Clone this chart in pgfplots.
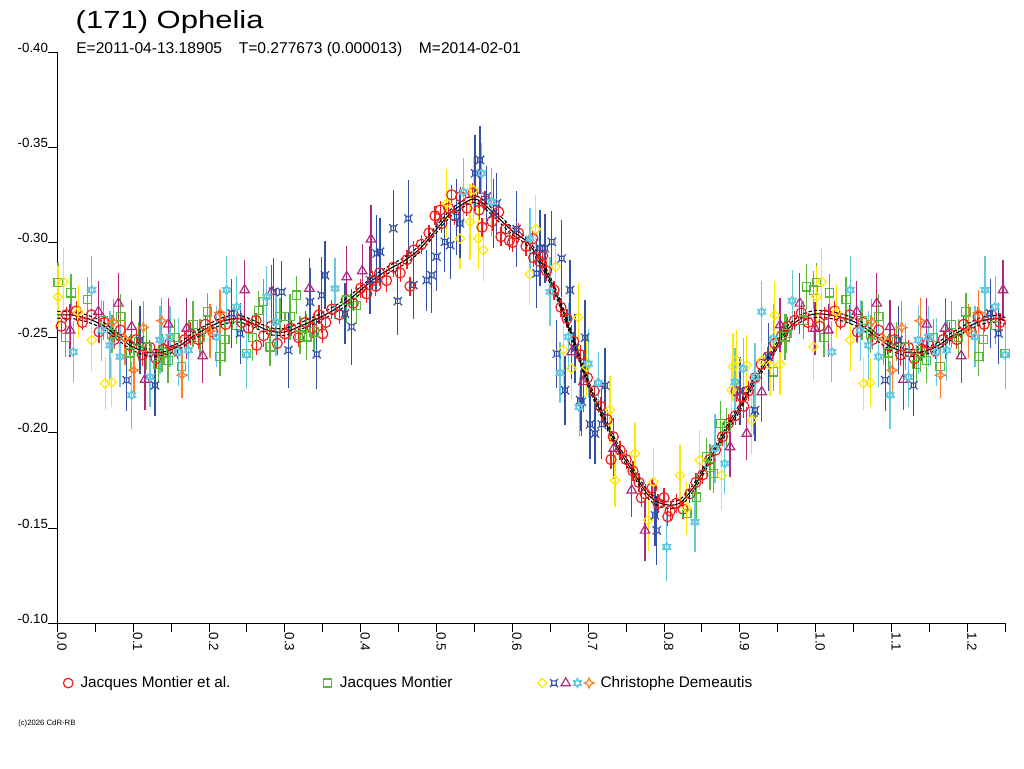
\documentclass[border=0pt]{standalone}
\usepackage{fontspec}
\setmainfont{Liberation Sans}
\usepackage{graphicx}
\usepackage{pgfplots}
\usepackage{pgfplotstable}
\pgfplotsset{compat=1.18}
\usetikzlibrary{plotmarks}

\definecolor{myred}{RGB}{240,30,30}
\definecolor{mygreen}{RGB}{90,185,60}
\definecolor{myyellow}{RGB}{255,232,0}
\definecolor{myblue}{RGB}{50,80,165}
\definecolor{mypurple}{RGB}{175,40,125}
\definecolor{mycyan}{RGB}{100,200,225}
\definecolor{myorange}{RGB}{255,125,40}

\pgfdeclareplotmark{rdiamond}{%
  \pgfpathmoveto{\pgfpoint{0pt}{\pgfplotmarksize}}%
  \pgfpathlineto{\pgfpoint{\pgfplotmarksize}{0pt}}%
  \pgfpathlineto{\pgfpoint{0pt}{-\pgfplotmarksize}}%
  \pgfpathlineto{\pgfpoint{-\pgfplotmarksize}{0pt}}%
  \pgfpathclose\pgfusepathqstroke}
\pgfdeclareplotmark{bowtie}{%
  \pgfpathrectangle{\pgfpoint{-0.55\pgfplotmarksize}{-0.55\pgfplotmarksize}}{\pgfpoint{1.1\pgfplotmarksize}{1.1\pgfplotmarksize}}%
  \pgfpathmoveto{\pgfpoint{-\pgfplotmarksize}{-\pgfplotmarksize}}\pgfpathlineto{\pgfpoint{-0.55\pgfplotmarksize}{-0.55\pgfplotmarksize}}%
  \pgfpathmoveto{\pgfpoint{\pgfplotmarksize}{-\pgfplotmarksize}}\pgfpathlineto{\pgfpoint{0.55\pgfplotmarksize}{-0.55\pgfplotmarksize}}%
  \pgfpathmoveto{\pgfpoint{-\pgfplotmarksize}{\pgfplotmarksize}}\pgfpathlineto{\pgfpoint{-0.55\pgfplotmarksize}{0.55\pgfplotmarksize}}%
  \pgfpathmoveto{\pgfpoint{\pgfplotmarksize}{\pgfplotmarksize}}\pgfpathlineto{\pgfpoint{0.55\pgfplotmarksize}{0.55\pgfplotmarksize}}%
  \pgfusepathqstroke}
\pgfdeclareplotmark{david}{%
  \pgfpathmoveto{\pgfpoint{0pt}{\pgfplotmarksize}}%
  \pgfpathlineto{\pgfpoint{0.866\pgfplotmarksize}{-0.5\pgfplotmarksize}}%
  \pgfpathlineto{\pgfpoint{-0.866\pgfplotmarksize}{-0.5\pgfplotmarksize}}%
  \pgfpathclose
  \pgfpathmoveto{\pgfpoint{0pt}{-\pgfplotmarksize}}%
  \pgfpathlineto{\pgfpoint{0.866\pgfplotmarksize}{0.5\pgfplotmarksize}}%
  \pgfpathlineto{\pgfpoint{-0.866\pgfplotmarksize}{0.5\pgfplotmarksize}}%
  \pgfpathclose\pgfusepathqstroke}
\pgfdeclareplotmark{fourstar}{%
  \pgfpathmoveto{\pgfpoint{0pt}{\pgfplotmarksize}}%
  \pgfpathlineto{\pgfpoint{0.3\pgfplotmarksize}{0.3\pgfplotmarksize}}%
  \pgfpathlineto{\pgfpoint{\pgfplotmarksize}{0pt}}%
  \pgfpathlineto{\pgfpoint{0.3\pgfplotmarksize}{-0.3\pgfplotmarksize}}%
  \pgfpathlineto{\pgfpoint{0pt}{-\pgfplotmarksize}}%
  \pgfpathlineto{\pgfpoint{-0.3\pgfplotmarksize}{-0.3\pgfplotmarksize}}%
  \pgfpathlineto{\pgfpoint{-\pgfplotmarksize}{0pt}}%
  \pgfpathlineto{\pgfpoint{-0.3\pgfplotmarksize}{0.3\pgfplotmarksize}}%
  \pgfpathclose\pgfusepathqstroke}

% fitted curve and its band
\pgfplotstableread{
x y lo hi
0.00 -0.2620 -0.2638 -0.2602
0.02 -0.2618 -0.2636 -0.2600
0.04 -0.2600 -0.2618 -0.2582
0.06 -0.2565 -0.2583 -0.2547
0.08 -0.2505 -0.2523 -0.2487
0.10 -0.2450 -0.2468 -0.2432
0.12 -0.2422 -0.2440 -0.2404
0.14 -0.2425 -0.2443 -0.2407
0.16 -0.2455 -0.2473 -0.2437
0.18 -0.2510 -0.2528 -0.2492
0.20 -0.2555 -0.2573 -0.2537
0.22 -0.2590 -0.2608 -0.2572
0.24 -0.2600 -0.2618 -0.2582
0.26 -0.2570 -0.2588 -0.2552
0.28 -0.2535 -0.2553 -0.2517
0.30 -0.2530 -0.2548 -0.2512
0.32 -0.2560 -0.2578 -0.2542
0.34 -0.2595 -0.2613 -0.2577
0.36 -0.2635 -0.2653 -0.2617
0.38 -0.2685 -0.2703 -0.2667
0.40 -0.2750 -0.2768 -0.2732
0.42 -0.2815 -0.2833 -0.2797
0.44 -0.2865 -0.2883 -0.2847
0.46 -0.2910 -0.2928 -0.2892
0.48 -0.2975 -0.2993 -0.2957
0.50 -0.3070 -0.3088 -0.3052
0.52 -0.3160 -0.3178 -0.3142
0.54 -0.3215 -0.3233 -0.3197
0.55 -0.3228 -0.3246 -0.3210
0.56 -0.3210 -0.3228 -0.3192
0.58 -0.3135 -0.3153 -0.3117
0.60 -0.3060 -0.3078 -0.3042
0.62 -0.3000 -0.3018 -0.2982
0.64 -0.2880 -0.2898 -0.2862
0.66 -0.2710 -0.2728 -0.2692
0.68 -0.2490 -0.2508 -0.2472
0.70 -0.2260 -0.2278 -0.2242
0.72 -0.2080 -0.2098 -0.2062
0.74 -0.1915 -0.1933 -0.1897
0.76 -0.1790 -0.1808 -0.1772
0.78 -0.1670 -0.1688 -0.1652
0.80 -0.1625 -0.1643 -0.1607
0.82 -0.1630 -0.1648 -0.1612
0.84 -0.1720 -0.1738 -0.1702
0.86 -0.1860 -0.1878 -0.1842
0.88 -0.2000 -0.2018 -0.1982
0.90 -0.2135 -0.2153 -0.2117
0.92 -0.2280 -0.2298 -0.2262
0.94 -0.2400 -0.2418 -0.2382
0.96 -0.2530 -0.2548 -0.2512
0.98 -0.2600 -0.2618 -0.2582
1.00 -0.2625 -0.2643 -0.2607
1.02 -0.2618 -0.2636 -0.2600
1.04 -0.2600 -0.2618 -0.2582
1.06 -0.2565 -0.2583 -0.2547
1.08 -0.2505 -0.2523 -0.2487
1.10 -0.2450 -0.2468 -0.2432
1.12 -0.2422 -0.2440 -0.2404
1.14 -0.2425 -0.2443 -0.2407
1.16 -0.2455 -0.2473 -0.2437
1.18 -0.2510 -0.2528 -0.2492
1.20 -0.2555 -0.2573 -0.2537
1.22 -0.2590 -0.2608 -0.2572
1.24 -0.2600 -0.2618 -0.2582
1.25 -0.2588 -0.2606 -0.2570
}\tabfit

% Jacques Montier et al.
\pgfplotstableread{
x y e
0.005 -0.256 0.004
0.012 -0.262 0.004
0.025 -0.264 0.005
0.033 -0.258 0.004
0.045 -0.262 0.005
0.055 -0.253 0.006
0.062 -0.258 0.004
0.075 -0.249 0.005
0.083 -0.254 0.006
0.095 -0.246 0.005
0.104 -0.249 0.005
0.112 -0.241 0.006
0.122 -0.245 0.004
0.130 -0.239 0.005
0.140 -0.244 0.006
0.148 -0.247 0.005
0.158 -0.243 0.004
0.168 -0.249 0.005
0.176 -0.252 0.006
0.186 -0.249 0.005
0.195 -0.257 0.005
0.205 -0.253 0.004
0.214 -0.261 0.005
0.222 -0.257 0.004
0.232 -0.262 0.005
0.243 -0.258 0.005
0.252 -0.255 0.005
0.262 -0.259 0.004
0.263 -0.246 0.005
0.272 -0.251 0.006
0.282 -0.256 0.005
0.290 -0.247 0.006
0.300 -0.252 0.005
0.308 -0.255 0.004
0.318 -0.250 0.005
0.327 -0.258 0.006
0.336 -0.255 0.005
0.345 -0.262 0.005
0.350 -0.252 0.005
0.354 -0.258 0.004
0.362 -0.265 0.005
0.372 -0.262 0.005
0.381 -0.270 0.005
0.390 -0.268 0.004
0.400 -0.276 0.005
0.408 -0.273 0.005
0.416 -0.280 0.005
0.420 -0.277 0.005
0.425 -0.284 0.005
0.434 -0.280 0.006
0.443 -0.287 0.005
0.452 -0.284 0.005
0.461 -0.291 0.005
0.465 -0.277 0.005
0.470 -0.296 0.005
0.480 -0.299 0.005
0.490 -0.305 0.004
0.498 -0.314 0.005
0.505 -0.317 0.005
0.507 -0.310 0.005
0.516 -0.318 0.005
0.520 -0.325 0.005
0.524 -0.314 0.005
0.532 -0.324 0.005
0.540 -0.318 0.004
0.548 -0.326 0.005
0.556 -0.317 0.005
0.560 -0.308 0.005
0.564 -0.322 0.005
0.573 -0.311 0.005
0.582 -0.316 0.004
0.585 -0.303 0.005
0.591 -0.307 0.005
0.596 -0.301 0.005
0.600 -0.300 0.005
0.608 -0.305 0.005
0.618 -0.298 0.005
0.627 -0.302 0.004
0.628 -0.292 0.005
0.636 -0.290 0.005
0.640 -0.293 0.005
0.645 -0.285 0.005
0.655 -0.275 0.005
0.664 -0.266 0.005
0.672 -0.260 0.005
0.681 -0.248 0.005
0.690 -0.241 0.005
0.699 -0.229 0.005
0.708 -0.222 0.005
0.716 -0.214 0.005
0.725 -0.207 0.005
0.730 -0.186 0.005
0.733 -0.198 0.005
0.742 -0.191 0.005
0.750 -0.186 0.005
0.759 -0.180 0.005
0.767 -0.174 0.005
0.770 -0.166 0.005
0.775 -0.168 0.005
0.784 -0.171 0.005
0.792 -0.163 0.005
0.800 -0.166 0.005
0.805 -0.156 0.005
0.808 -0.159 0.005
0.816 -0.163 0.005
0.825 -0.160 0.005
0.834 -0.168 0.005
0.842 -0.174 0.005
0.851 -0.178 0.005
0.860 -0.186 0.005
0.868 -0.191 0.005
0.877 -0.198 0.005
0.885 -0.205 0.005
0.894 -0.209 0.005
0.895 -0.222 0.006
0.903 -0.219 0.005
0.905 -0.214 0.006
0.911 -0.222 0.005
0.920 -0.229 0.005
0.928 -0.236 0.005
0.937 -0.240 0.005
0.946 -0.247 0.005
0.955 -0.251 0.005
0.963 -0.256 0.005
0.972 -0.259 0.005
0.981 -0.263 0.005
0.990 -0.258 0.005
1.005 -0.256 0.004
1.012 -0.262 0.004
1.025 -0.264 0.005
1.033 -0.258 0.004
1.045 -0.262 0.005
1.055 -0.253 0.006
1.062 -0.258 0.004
1.075 -0.249 0.005
1.083 -0.254 0.006
1.095 -0.246 0.005
1.104 -0.249 0.005
1.112 -0.241 0.006
1.122 -0.245 0.004
1.130 -0.239 0.005
1.140 -0.244 0.006
1.148 -0.247 0.005
1.158 -0.243 0.004
1.168 -0.249 0.005
1.176 -0.252 0.006
1.186 -0.249 0.005
1.195 -0.257 0.005
1.205 -0.253 0.004
1.214 -0.261 0.005
1.222 -0.257 0.004
1.232 -0.262 0.005
1.243 -0.258 0.005
}\tabred

% Jacques Montier
\pgfplotstableread{
x y e
0.001 -0.2790 0.010
0.011 -0.2500 0.010
0.018 -0.2735 0.010
0.040 -0.2700 0.012
0.061 -0.2590 0.010
0.072 -0.2520 0.010
0.083 -0.2610 0.012
0.096 -0.2420 0.010
0.107 -0.2480 0.010
0.118 -0.2450 0.012
0.133 -0.2360 0.010
0.138 -0.2420 0.010
0.146 -0.2380 0.012
0.155 -0.2500 0.010
0.164 -0.2350 0.010
0.179 -0.2570 0.012
0.188 -0.2500 0.010
0.198 -0.2635 0.010
0.2145 -0.2400 0.010
0.221 -0.2490 0.012
0.2365 -0.2565 0.010
0.2497 -0.2417 0.010
0.2576 -0.2500 0.012
0.265 -0.2644 0.010
0.2716 -0.2690 0.012
0.2805 -0.2452 0.010
0.2936 -0.2610 0.010
0.3068 -0.2610 0.012
0.3157 -0.2723 0.010
0.320 -0.2513 0.010
0.3289 -0.2504 0.012
0.3385 -0.2530 0.010
0.3816 -0.2697 0.012
0.3948 -0.2670 0.010
0.830 -0.1576 0.010
0.843 -0.1663 0.012
0.856 -0.1874 0.010
0.8606 -0.1821 0.012
0.865 -0.1786 0.010
0.874 -0.2050 0.012
0.8826 -0.2031 0.010
0.918 -0.2110 0.012
0.944 -0.2320 0.010
0.9595 -0.2504 0.012
0.9618 -0.2522 0.010
0.9836 -0.2592 0.010
0.988 -0.2767 0.012
0.9969 -0.2750 0.010
1.001 -0.2790 0.010
1.011 -0.2500 0.010
1.018 -0.2735 0.010
1.040 -0.2700 0.012
1.061 -0.2590 0.010
1.072 -0.2520 0.010
1.083 -0.2610 0.012
1.096 -0.2420 0.010
1.107 -0.2480 0.010
1.118 -0.2450 0.012
1.133 -0.2360 0.010
1.138 -0.2420 0.010
1.146 -0.2380 0.012
1.155 -0.2500 0.010
1.164 -0.2350 0.010
1.179 -0.2570 0.012
1.188 -0.2500 0.010
1.198 -0.2635 0.010
1.2145 -0.2400 0.010
1.221 -0.2490 0.012
1.2365 -0.2565 0.010
1.2497 -0.2417 0.010
}\tabgreen

% Christophe Demeautis (five sets)
\pgfplotstableread{
x y e
0.001 -0.2714 0.016
0.008 -0.2793 0.018
0.0277 -0.2636 0.014
0.0454 -0.2487 0.016
0.063 -0.2260 0.014
0.0717 -0.2265 0.013
0.5134 -0.3205 0.018
0.531 -0.3020 0.016
0.544 -0.3108 0.020
0.5487 -0.3275 0.018
0.555 -0.3020 0.016
0.5617 -0.2960 0.016
0.623 -0.2833 0.016
0.631 -0.3070 0.018
0.657 -0.2872 0.016
0.667 -0.2438 0.018
0.678 -0.2338 0.016
0.687 -0.2606 0.018
0.698 -0.2346 0.016
0.7288 -0.2121 0.018
0.7354 -0.1751 0.014
0.7617 -0.1892 0.016
0.779 -0.1541 0.016
0.7859 -0.1742 0.018
0.821 -0.1777 0.016
0.830 -0.1603 0.014
0.847 -0.1856 0.016
0.876 -0.1777 0.018
0.889 -0.2224 0.016
0.891 -0.2347 0.018
0.896 -0.2382 0.016
0.909 -0.2355 0.016
0.9156 -0.2067 0.018
0.929 -0.2382 0.016
0.9398 -0.2355 0.016
0.946 -0.2618 0.018
0.953 -0.2360 0.016
0.997 -0.2452 0.018
1.001 -0.2714 0.016
1.008 -0.2793 0.018
1.0277 -0.2636 0.014
1.0454 -0.2487 0.016
1.063 -0.2260 0.014
1.0717 -0.2265 0.013
}\tabyellow

\pgfplotstableread{
x y e
0.0915 -0.2277 0.016
0.109 -0.2487 0.018
0.1288 -0.2250 0.016
0.230 -0.2627 0.018
0.241 -0.2522 0.016
0.285 -0.2740 0.018
0.296 -0.2740 0.016
0.3046 -0.2434 0.020
0.3332 -0.2688 0.018
0.342 -0.2413 0.018
0.3487 -0.2723 0.020
0.353 -0.2828 0.018
0.3794 -0.2627 0.016
0.388 -0.2557 0.020
0.4123 -0.2802 0.018
0.421 -0.2942 0.020
0.4255 -0.2951 0.018
0.443 -0.3074 0.020
0.449 -0.2692 0.018
0.4628 -0.3126 0.020
0.4694 -0.2776 0.018
0.487 -0.2802 0.016
0.4937 -0.2828 0.020
0.500 -0.2925 0.018
0.511 -0.3003 0.016
0.518 -0.2986 0.018
0.5266 -0.3135 0.020
0.531 -0.3100 0.018
0.5508 -0.3363 0.020
0.5573 -0.3433 0.018
0.5662 -0.3240 0.016
0.575 -0.3153 0.018
0.5794 -0.3205 0.016
0.6057 -0.3070 0.020
0.632 -0.2837 0.018
0.6365 -0.2969 0.020
0.643 -0.2969 0.018
0.652 -0.3003 0.016
0.6585 -0.2415 0.018
0.665 -0.2916 0.020
0.6694 -0.2224 0.018
0.676 -0.2750 0.016
0.6826 -0.2443 0.018
0.6893 -0.2172 0.016
0.6915 -0.2163 0.018
0.6958 -0.2500 0.020
0.7024 -0.2045 0.018
0.709 -0.1997 0.016
0.7178 -0.2045 0.018
0.7222 -0.2248 0.020
0.788 -0.1567 0.016
0.7903 -0.1488 0.018
0.9002 -0.2220 0.018
0.920 -0.2119 0.016
0.9375 -0.2399 0.018
1.0915 -0.2277 0.016
1.109 -0.2487 0.018
1.1288 -0.2250 0.016
1.230 -0.2627 0.018
1.241 -0.2522 0.016
}\tabblue

\pgfplotstableread{
x y e
0.0167 -0.2539 0.014
0.0541 -0.2636 0.016
0.0805 -0.2680 0.016
0.098 -0.2557 0.014
0.1156 -0.2280 0.016
0.1464 -0.2570 0.014
0.1706 -0.2548 0.016
0.1917 -0.2404 0.014
0.247 -0.2750 0.016
0.2827 -0.2741 0.014
0.3323 -0.2758 0.016
0.3816 -0.2819 0.016
0.4020 -0.2850 0.014
0.4136 -0.3017 0.018
0.6783 -0.2425 0.014
0.6936 -0.2268 0.016
0.7133 -0.2259 0.014
0.7335 -0.1918 0.016
0.7574 -0.1699 0.014
0.7749 -0.1488 0.016
0.887 -0.1926 0.016
0.909 -0.1997 0.014
0.9288 -0.2215 0.016
0.953 -0.2566 0.014
0.979 -0.2680 0.016
0.999 -0.2548 0.014
1.0167 -0.2539 0.014
1.0541 -0.2636 0.016
1.0805 -0.2680 0.016
1.098 -0.2557 0.014
1.1156 -0.2280 0.016
1.1464 -0.2570 0.014
1.1706 -0.2548 0.016
1.1917 -0.2404 0.014
1.247 -0.2750 0.016
}\tabpurple

\pgfplotstableread{
x y e
0.0211 -0.2425 0.016
0.0454 -0.2750 0.018
0.0585 -0.2539 0.016
0.0695 -0.2460 0.018
0.0827 -0.2400 0.016
0.098 -0.2198 0.018
0.1222 -0.2294 0.016
0.1353 -0.2487 0.018
0.1486 -0.2504 0.016
0.1596 -0.2425 0.018
0.1727 -0.2434 0.016
0.2101 -0.2504 0.016
0.2233 -0.2750 0.018
0.2365 -0.2662 0.016
0.2497 -0.2410 0.018
0.2761 -0.2714 0.016
0.2884 -0.2583 0.018
0.3662 -0.2758 0.016
0.5353 -0.3266 0.018
0.5596 -0.3363 0.016
0.5728 -0.3213 0.018
0.6233 -0.3021 0.016
0.6496 -0.2741 0.018
0.6629 -0.2316 0.016
0.6738 -0.2504 0.018
0.6880 -0.2136 0.016
0.7001 -0.2364 0.018
0.7133 -0.2263 0.016
0.8035 -0.1401 0.018
0.8408 -0.1532 0.016
0.8672 -0.1918 0.018
0.880 -0.1839 0.016
0.8936 -0.2268 0.018
0.9045 -0.2338 0.016
0.920 -0.2294 0.018
0.9288 -0.2636 0.016
0.944 -0.2496 0.018
0.9690 -0.2694 0.016
1.0211 -0.2425 0.016
1.0454 -0.2750 0.018
1.0585 -0.2539 0.016
1.0695 -0.2460 0.018
1.0827 -0.2400 0.016
1.098 -0.2198 0.018
1.1222 -0.2294 0.016
1.1353 -0.2487 0.018
1.1486 -0.2504 0.016
1.1596 -0.2425 0.018
1.1727 -0.2434 0.016
1.2101 -0.2504 0.016
1.2233 -0.2750 0.018
1.2365 -0.2662 0.016
1.2497 -0.2410 0.018
}\tabcyan

\pgfplotstableread{
x y e
0.0738 -0.2583 0.012
0.0893 -0.2496 0.014
0.1010 -0.2329 0.012
0.1134 -0.2553 0.014
0.1377 -0.2589 0.012
0.1645 -0.2303 0.012
0.2012 -0.2535 0.014
0.2145 -0.2632 0.012
1.0738 -0.2583 0.012
1.0893 -0.2496 0.014
1.1010 -0.2329 0.012
1.1134 -0.2553 0.014
1.1377 -0.2589 0.012
1.1645 -0.2303 0.012
1.2012 -0.2535 0.014
1.2145 -0.2632 0.012
}\taborange

\pgfplotsset{
  obs/.style n args={3}{forget plot, only marks, color=#1, mark=#2, mark size=#3,
    line width=0.9pt, mark options={solid, line width=0.9pt},
    error bars/.cd, y dir=both, y explicit, error mark=none,
    error bar style={line width=0.9pt, color=#1}},
}

\begin{document}
\begin{tikzpicture}
\useasboundingbox (0,0) rectangle (768pt,576pt);

\node[anchor=base west, inner sep=0pt, font=\fontsize{18.6}{21}\selectfont] at (56.6pt,554.8pt) {\scalebox{1.25}[1]{(171) Ophelia}};
\node[anchor=base west, inner sep=0pt, font=\fontsize{11.7}{13.5}\selectfont] at (57pt,536pt)
  {E=2011-04-13.18905\hspace{12.5pt}T=0.277673 (0.000013)\hspace{12.5pt}M=2014-02-01};
\node[anchor=west, inner sep=0pt, font=\fontsize{5.8}{7}\selectfont] at (13.5pt,33.75pt) {(c)2026 CdR-RB};

\begin{axis}[
  at={(43pt,108.5pt)}, anchor=south west,
  scale only axis, width=711pt, height=428.5pt,
  xmin=0, xmax=1.25, ymin=-0.40, ymax=-0.10, y dir=reverse,
  axis x line*=bottom, axis y line*=left,
  axis line style={line width=0.75pt, black, -},
  clip=false,
  xtick={0,0.1,0.2,0.3,0.4,0.5,0.6,0.7,0.8,0.9,1.0,1.1,1.2},
  xticklabels={0.0,0.1,0.2,0.3,0.4,0.5,0.6,0.7,0.8,0.9,1.0,1.1,1.2},
  minor xtick={0.05,0.15,0.25,0.35,0.45,0.55,0.65,0.75,0.85,0.95,1.05,1.15,1.25},
  ytick={-0.40,-0.35,-0.30,-0.25,-0.20,-0.15,-0.10},
  yticklabels={-0.40,-0.35,-0.30,-0.25,-0.20,-0.15,-0.10},
  tick align=outside, major tick length=6.75pt, minor tick length=6.75pt,
  every tick/.style={black, line width=0.75pt},
  ticklabel style={font=\fontsize{10}{12}\selectfont},
  xticklabel style={rotate=-90, anchor=base west, inner sep=0pt},
  yticklabel style={anchor=base east, inner sep=0pt},
  legend columns=3,
  legend cell align=left,
  legend style={at={(axis description cs:0.0042,-0.1045)}, anchor=west,
    draw=none, fill=none, inner sep=0pt, outer sep=0pt,
    column sep=0pt, row sep=0pt,
    font=\fontsize{11.5}{13}\selectfont,
    nodes={inner sep=0pt, outer sep=0pt}},
]

\addplot[obs={myred}{o}{3.8pt}] table[x=x, y=y, y error=e] {\tabred};
\addplot[obs={mygreen}{square}{3.1pt}] table[x=x, y=y, y error=e] {\tabgreen};
\addplot[obs={myyellow}{rdiamond}{3.5pt}] table[x=x, y=y, y error=e] {\tabyellow};
\addplot[obs={myblue}{bowtie}{3.1pt}] table[x=x, y=y, y error=e] {\tabblue};
\addplot[obs={mypurple}{triangle}{4.1pt}] table[x=x, y=y, y error=e] {\tabpurple};
\addplot[obs={mycyan}{david}{3.5pt}] table[x=x, y=y, y error=e] {\tabcyan};
\addplot[obs={myorange}{fourstar}{3.8pt}] table[x=x, y=y, y error=e] {\taborange};

\addplot[forget plot, black, line width=0.8pt, smooth, no marks] table[x=x, y=y] {\tabfit};
\addplot[forget plot, black, line width=0.8pt, smooth, no marks, dash pattern=on 2.5pt off 1.5pt] table[x=x, y=lo] {\tabfit};
\addplot[forget plot, black, line width=0.8pt, smooth, no marks, dash pattern=on 2.5pt off 1.5pt] table[x=x, y=hi] {\tabfit};

\addlegendimage{legend image code/.code={%
  \path (-5pt,0pt) (9pt,0pt);
  \draw[myred, line width=0.9pt] plot[only marks, mark=o, mark size=3.6pt] coordinates {(0pt,0pt)};}}
\addlegendentry{\makebox[180.2pt][l]{Jacques Montier et al.}}
\addlegendimage{legend image code/.code={%
  \path (-5pt,0pt) (9pt,0pt);
  \draw[mygreen, line width=0.9pt] plot[only marks, mark=square, mark size=3pt] coordinates {(0pt,0pt)};}}
\addlegendentry{\makebox[146.5pt][l]{Jacques Montier}}
\addlegendimage{legend image code/.code={%
  \path (-5pt,0pt) (43.5pt,0pt);
  \draw[myyellow, line width=0.9pt] plot[only marks, mark=rdiamond, mark size=3.4pt] coordinates {(0pt,0pt)};
  \draw[myblue, line width=0.9pt] plot[only marks, mark=bowtie, mark size=3pt] coordinates {(8.8pt,0pt)};
  \draw[mypurple, line width=0.9pt] plot[only marks, mark=triangle, mark size=4pt] coordinates {(17.6pt,0pt)};
  \draw[mycyan, line width=0.9pt] plot[only marks, mark=david, mark size=3.4pt] coordinates {(26.4pt,0pt)};
  \draw[myorange, line width=0.9pt] plot[only marks, mark=fourstar, mark size=3.75pt] coordinates {(35.2pt,0pt)};}}
\addlegendentry{Christophe Demeautis}
\end{axis}
\end{tikzpicture}
\end{document}
